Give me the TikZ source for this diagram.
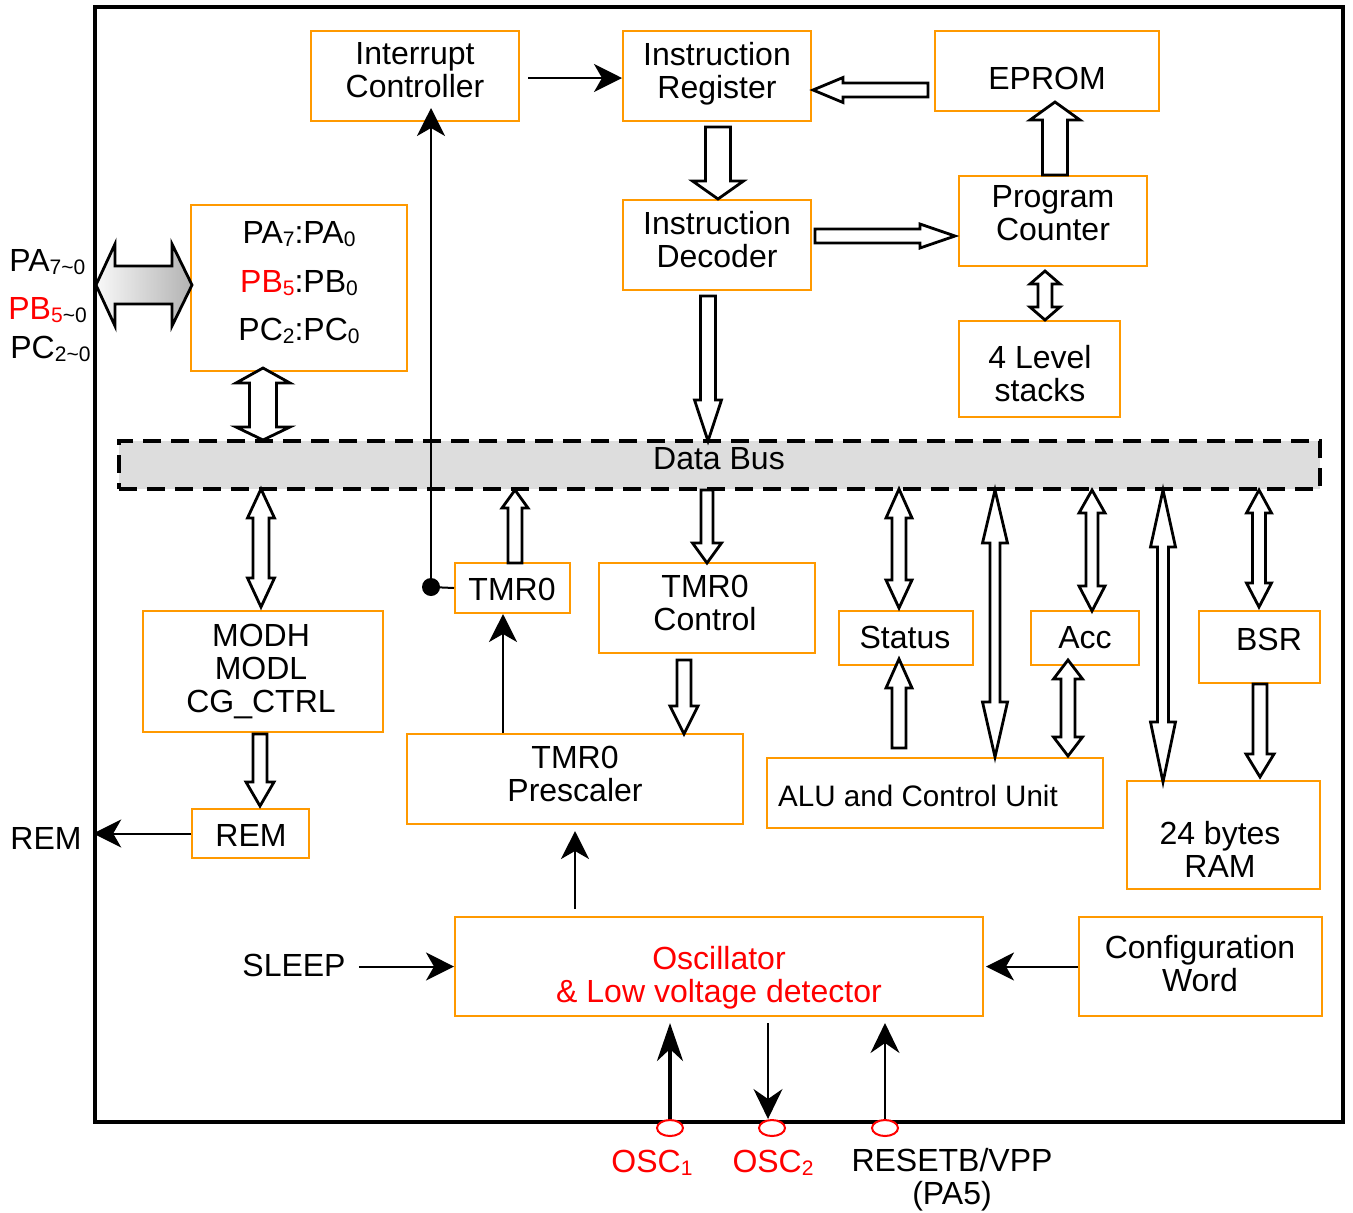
\documentclass[tikz,border=0pt]{standalone}
\usepackage{fontspec}
\setmainfont{Liberation Sans}
\usetikzlibrary{arrows.meta,calc,fit,shapes.geometric}
\definecolor{boxorange}{RGB}{255,153,0}
\definecolor{sigred}{RGB}{255,0,0}
\definecolor{busgray}{RGB}{221,221,221}
% small lowered index text
\newcommand\sub[1]{\raisebox{-0.12em}{\fontsize{10.5}{10.5}\selectfont #1}}
% hollow block arrows: vertical single (x, tail y, head base y, tip y, shaft half, head half)
\newcommand\VArrow[6]{\draw[fat] ({#1-#5},#2) -- ({#1-#5},#3) -- ({#1-#6},#3) -- (#1,#4) -- ({#1+#6},#3) -- ({#1+#5},#3) -- ({#1+#5},#2) -- cycle;}
% horizontal single (y, tail x, head base x, tip x, shaft half, head half)
\newcommand\HArrow[6]{\draw[fat] (#2,{#1-#5}) -- (#3,{#1-#5}) -- (#3,{#1-#6}) -- (#4,#1) -- (#3,{#1+#6}) -- (#3,{#1+#5}) -- (#2,{#1+#5}) -- cycle;}
% vertical double (x, tip1, base1, base2, tip2, shaft half, head half)
\newcommand\VDArrow[7]{\draw[fat] (#1,#2) -- ({#1+#7},#3) -- ({#1+#6},#3) -- ({#1+#6},#4) -- ({#1+#7},#4) -- (#1,#5) -- ({#1-#7},#4) -- ({#1-#6},#4) -- ({#1-#6},#3) -- ({#1-#7},#3) -- cycle;}
% horizontal double (y, tip1, base1, base2, tip2, shaft half, head half, extra style)
\newcommand\HDArrow[8]{\draw[fat,#8] (#2,#1) -- (#3,{#1-#7}) -- (#3,{#1-#6}) -- (#4,{#1-#6}) -- (#4,{#1-#7}) -- (#5,#1) -- (#4,{#1+#7}) -- (#4,{#1+#6}) -- (#3,{#1+#6}) -- (#3,{#1+#7}) -- cycle;}

\tikzset{
  blk/.style={draw=boxorange, line width=1pt, inner sep=0pt, fill=white},
  busbox/.style={draw=black, fill=busgray, line width=2pt, dash pattern=on 9pt off 5pt, inner sep=0pt},
  lbl/.style={font=\fontsize{16}{16.5}\selectfont, align=center, inner sep=0pt},
  fat/.style={draw=black, line width=1.4pt, fill=white, line join=miter},
  thinline/.style={line width=1pt},
  arr/.style={line width=1pt, -{Stealth[length=14pt,width=14pt,inset=4pt]}},
  arrpin/.style={line width=1pt, -{Stealth[length=15pt,width=14.5pt,inset=5pt]}},
  arrbold/.style={line width=2pt, -{Stealth[length=19pt,width=13pt,inset=6pt]}},
  jdot/.style={circle, fill=black, inner sep=0pt, minimum size=9pt},
  pinmark/.style={ellipse, draw=sigred, fill=white, line width=1pt, inner sep=0pt, minimum width=13pt, minimum height=8pt},
}

\begin{document}
\begin{tikzpicture}[x=0.5pt,y=-0.5pt]
\useasboundingbox (0,0) rectangle (1353,1212);

% chip outline
\node[draw, line width=1.8pt, inner sep=0pt, fit={(95,7) (1343,1122)}] (chip) {};

% data bus
\node[busbox, fit={(119,441) (1320,489)}] (bus) {};

% blocks
\node[blk, fit={(311,31) (519,121)}] (ic) {};
\node[blk, fit={(623,31) (811,121)}] (ir) {};
\node[blk, fit={(935,31) (1159,111)}] (eprom) {};
\node[blk, fit={(623,200) (811,290)}] (id) {};
\node[blk, fit={(959,176) (1147,266)}] (pc) {};
\node[blk, fit={(959,321) (1120,417)}] (stk) {};
\node[blk, fit={(191,205) (407,371)}] (port) {};
\node[blk, fit={(455,563) (570,613)}] (tmr) {};
\node[blk, fit={(599,563) (815,653)}] (tmrc) {};
\node[blk, fit={(839,611) (973,665)}] (stat) {};
\node[blk, fit={(1031,611) (1139,665)}] (acc) {};
\node[blk, fit={(1199,611) (1320,683)}] (bsr) {};
\node[blk, fit={(143,611) (383,732)}] (mod) {};
\node[blk, fit={(192,809) (309,858)}] (rem) {};
\node[blk, fit={(407,734) (743,824)}] (pre) {};
\node[blk, fit={(767,758) (1103,828)}] (alu) {};
\node[blk, fit={(1127,781) (1320,889)}] (ram) {};
\node[blk, fit={(455,917) (983,1016)}] (osc) {};
\node[blk, fit={(1079,917) (1322,1016)}] (cfg) {};

% pins
\node[pinmark] (p1) at (670,1128) {};
\node[pinmark] (p2) at (772,1128) {};
\node[pinmark] (p3) at (885,1128) {};

% block arrows
\HArrow{90}{928}{843}{813}{7}{12.5}
\VArrow{718}{127}{181}{199}{12.5}{25.5}
\HArrow{236}{815}{920}{955}{7}{12}
\VArrow{1055}{175}{120}{102}{12.5}{25}
\VDArrow{1045}{271}{284}{307}{320}{7}{15}
\VDArrow{263}{368}{383}{427}{440}{13.5}{27}
\VArrow{708}{296}{400}{441}{7.5}{13.5}
\VDArrow{261}{489}{518}{578}{607}{8}{13.5}
\VArrow{515}{563}{508}{490}{7}{13}
\VArrow{707}{490}{543}{563}{6}{14.5}
\VArrow{684}{660}{706}{734}{7}{14}
\VDArrow{899}{489}{518}{580}{608}{7}{13}
\VArrow{899}{748}{688}{659}{7}{13}
\VDArrow{995}{490}{543}{702}{757}{5}{12.5}
\VDArrow{1092}{490}{513}{586}{611}{6}{13}
\VDArrow{1068}{660}{679}{737}{756}{7}{14.5}
\VDArrow{1163}{490}{547}{722}{782}{5.5}{12.5}
\VDArrow{1259}{490}{513}{583}{607}{6.5}{12.5}
\VArrow{1260}{684}{754}{777}{7}{14}
\VArrow{260}{734}{782}{806}{7}{14}
\HDArrow{285}{96}{115}{172}{192}{19}{41}{left color=gray!5, right color=gray!60}

% labels inside blocks
\node[lbl] (ic-t) at (415,70.5) {Interrupt\\Controller};
\node[lbl] (ir-t) at (717,73.5) {Instruction\\Register};
\node[lbl, anchor=base] (eprom-t) at (1047,89) {EPROM};
\node[lbl] (id-t) at (717,239.5) {Instruction\\Decoder};
\node[lbl] (pc-t) at (1053,213.5) {Program\\Counter};
\node[lbl] (stk-t) at (1040,373.5) {4 Level\\stacks};
\node[lbl, anchor=base] (pa-t) at (299,243) {PA\sub{7}:PA\sub{0}};
\node[lbl, anchor=base] (pb-t) at (299,292) {\textcolor{sigred}{PB\sub{5}}:PB\sub{0}};
\node[lbl, anchor=base] (pcp-t) at (299,340) {PC\sub{2}:PC\sub{0}};
\node[lbl, anchor=base] (bus-t) at (719,469) {Data Bus};
\node[lbl, anchor=base] (tmr-t) at (512,600) {TMR0};
\node[lbl] (tmrc-t) at (705,602.5) {TMR0\\Control};
\node[lbl, anchor=base] (stat-t) at (905,648) {Status};
\node[lbl, anchor=base] (acc-t) at (1085,648) {Acc};
\node[lbl, anchor=base] (bsr-t) at (1269,650) {BSR};
\node[lbl] (mod-t) at (261,671) {MODH\\MODL\\CG\_CTRL};
\node[lbl, anchor=base] (rem-t) at (251,846) {REM};
\node[lbl] (pre-t) at (575,773.5) {TMR0\\Prescaler};
\node[lbl, anchor=base, font=\fontsize{14.8}{16.5}\selectfont] (alu-t) at (918,806) {ALU and Control Unit};
\node[lbl] (ram-t) at (1220,849.5) {24 bytes\\RAM};
\node[lbl, text=sigred] (osc-t) at (719,977.5) {Oscillator\\\& Low voltage detector};
\node[lbl] (cfg-t) at (1200,963.5) {Configuration\\Word};

% outside signal names
\node[lbl, anchor=base west] (pa-o) at (9,271) {PA\sub{7\textasciitilde0}};
\node[lbl, anchor=base west] (pb-o) at (8,319) {\textcolor{sigred}{PB\sub{5}}\sub{\textasciitilde0}};
\node[lbl, anchor=base west] (pc-o) at (10,358) {PC\sub{2\textasciitilde0}};
\node[lbl, anchor=base] (rem-o) at (46,849) {REM};
\node[lbl, anchor=base] (sleep) at (294,976) {SLEEP};
\node[lbl, anchor=base, text=sigred] (osc1-t) at (652,1172) {OSC\sub{1}};
\node[lbl, anchor=base, text=sigred] (osc2-t) at (773,1172) {OSC\sub{2}};
\node[lbl] (rst-t) at (952,1179.5) {RESETB/VPP\\(PA5)};

% thin connectors
\draw[arr] ($(ic.east)+(8,2)$) -- ($(ir.west)+(0,2)$);
\node[jdot] (jn) at (431,587) {};
\draw[thinline] (jn.center) -- (tmr.west);
\draw[arr] (jn.center) -- ($(jn |- ic.south)+(0,-14)$);
\coordinate (tx) at (503,0);
\draw[arr] (pre.north -| tx) -- (tmr.south -| tx);
\draw[arr] ($(pre.south |- osc.north)+(0,-7)$) -- ($(pre.south)+(0,6)$);
\draw[arr] ($(osc.west -| sleep.east)+(13,0)$) -- (osc.west);
\draw[arr] (cfg.west) -- ($(osc.east)+(2,0)$);
\draw[arr] (rem.west) -- (rem.west -| chip.west);
\draw[arrbold] (p1.north) -- ($(p1 |- osc.south)+(0,6)$);
\draw[arrpin] ($(p2 |- osc.south)+(-4,6)$) -- ($(p2.north)+(-4,0)$);
\draw[arrpin] (p3.north) -- ($(p3 |- osc.south)+(0,6)$);
\end{tikzpicture}
\end{document}
